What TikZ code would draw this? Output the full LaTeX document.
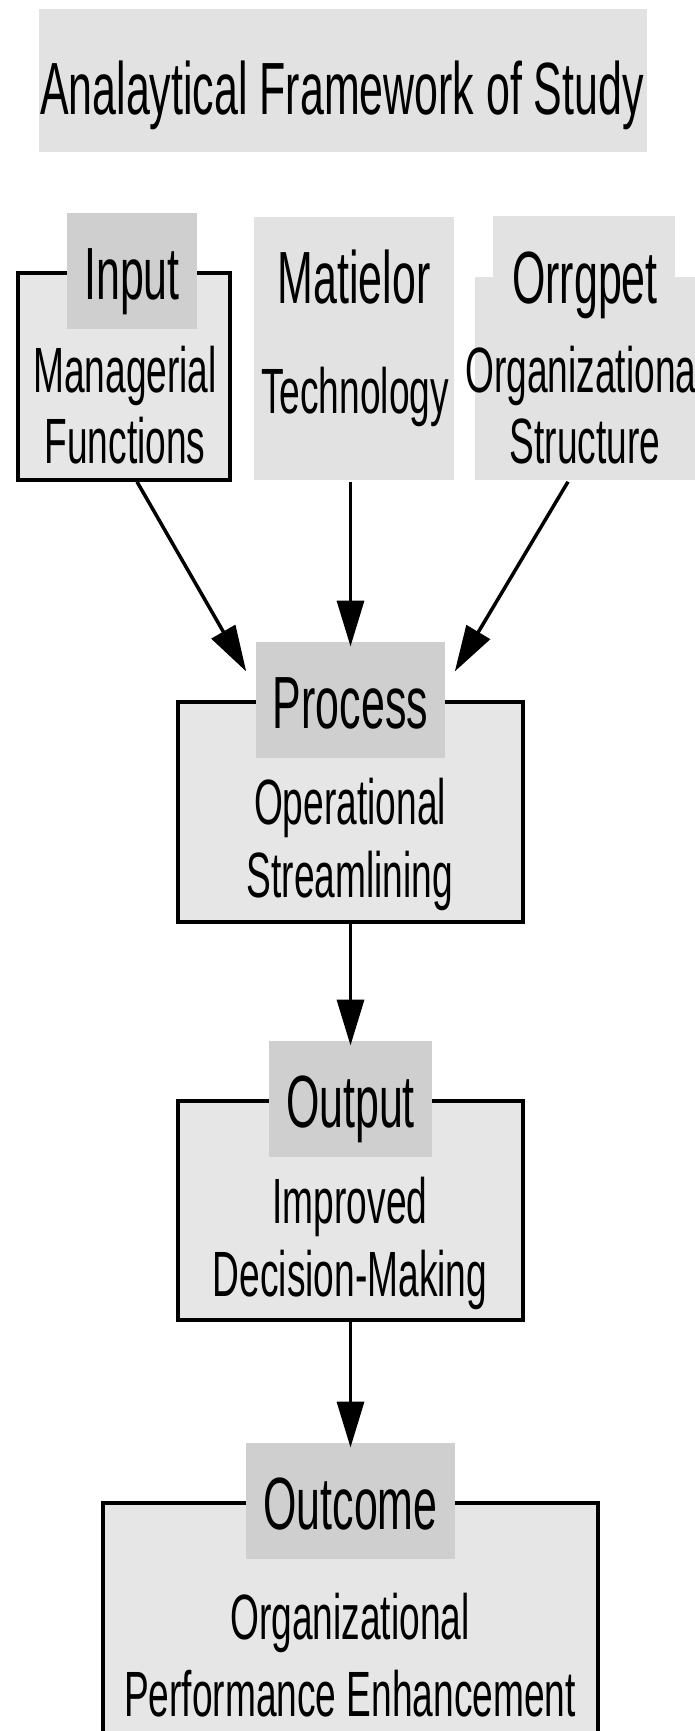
\documentclass[tikz,border=0pt]{standalone}
\usepackage{fontspec}
\setmainfont{Liberation Sans}[FakeStretch=0.58]
\usepackage{tikz}
\usetikzlibrary{arrows.meta}
\definecolor{boxgray}{HTML}{E6E6E6}
\definecolor{labelgray}{HTML}{CFCFCF}
\definecolor{softgray}{HTML}{E2E2E2}

\begin{document}
\begin{tikzpicture}[x=1pt, y=-1pt, line width=3.5pt,
frame_style/.style={rectangle,draw=black,fill=boxgray,inner sep=0pt},
plain_style/.style={rectangle,fill=softgray,inner sep=0pt},
label_style/.style={rectangle,fill=labelgray,inner xsep=17pt,inner ysep=0pt,minimum height=116pt,text height=60pt,text depth=4pt,font=\fontsize{74}{80}\selectfont},
head_style/.style={anchor=base,inner sep=0pt,font=\fontsize{74}{80}\selectfont},
text_style/.style={anchor=base,align=center,inner sep=0pt,font=\fontsize{64}{71}\selectfont},
arrow_style/.style={draw=black,line width=3.5pt,-{Triangle[length=46pt,width=27pt]}}]
\clip (0,0) rectangle (695,1731);

% title
\node[plain_style, minimum width=608pt, minimum height=143pt] (title_box) at (343,80.5) {};
\node[head_style] (title) at (342,115) {Analaytical Framework of Study};

% top row
\node[frame_style, minimum width=212pt, minimum height=207pt] (in_frame) at (124,376.5) {};
\node[label_style] (in_label) at ([xshift=8pt]in_frame.north) {Input};
\node[text_style] (in_text) at (125,463) {Managerial\\Functions};

\node[plain_style, minimum width=200pt, minimum height=263pt] (mat_box) at (354,348.5) {};
\node[head_style] (mat_head) at (354,303) {Matielor};
\node[text_style] (mat_text) at (355,413) {Technology};

\node[plain_style, minimum width=182pt, minimum height=62pt] (org_top) at (584,247) {};
\node[plain_style, minimum width=225pt, minimum height=203pt] (org_box) at (587.5,378.5) {};
\node[head_style] (org_head) at (585,303) {Orrgpet};
\node[text_style] (org_text) at (585,463) {Organizational\\Structure};

% process
\node[frame_style, minimum width=345pt, minimum height=220pt] (proc_frame) at (350.5,812) {};
\node[label_style] (proc_label) at (proc_frame.north) {Process};
\node[text_style, font=\fontsize{64}{73}\selectfont] (proc_text) at (350,897) {Operational\\Streamlining};

% output
\node[frame_style, minimum width=345pt, minimum height=219pt] (out_frame) at (350.5,1210.5) {};
\node[label_style] (out_label) at (out_frame.north) {Output};
\node[text_style, font=\fontsize{64}{73}\selectfont] (out_text) at (350,1296) {Improved\\Decision-Making};

% outcome
\node[frame_style, minimum width=495pt, minimum height=257pt] (outc_frame) at (350.5,1631.5) {};
\node[label_style] (outc_label) at (outc_frame.north) {Outcome};
\node[text_style, font=\fontsize{64}{77}\selectfont] (outc_text) at (350,1716) {Organizational\\Performance Enhancement};

\draw[arrow_style] ([xshift=13pt]in_frame.south) -- ([xshift=-8pt,yshift=-31pt]proc_label.north west);
\draw[arrow_style, shorten >=-6pt] (mat_box.south -| proc_label.north) -- (proc_label.north);
\draw[arrow_style] ([xshift=-19.5pt]org_box.south) -- ([xshift=8pt,yshift=-31pt]proc_label.north east);
\draw[arrow_style, shorten >=-6pt] (proc_frame.south) -- (out_label.north);
\draw[arrow_style, shorten >=-6pt] (out_frame.south) -- (outc_label.north);
\end{tikzpicture}
\end{document}
